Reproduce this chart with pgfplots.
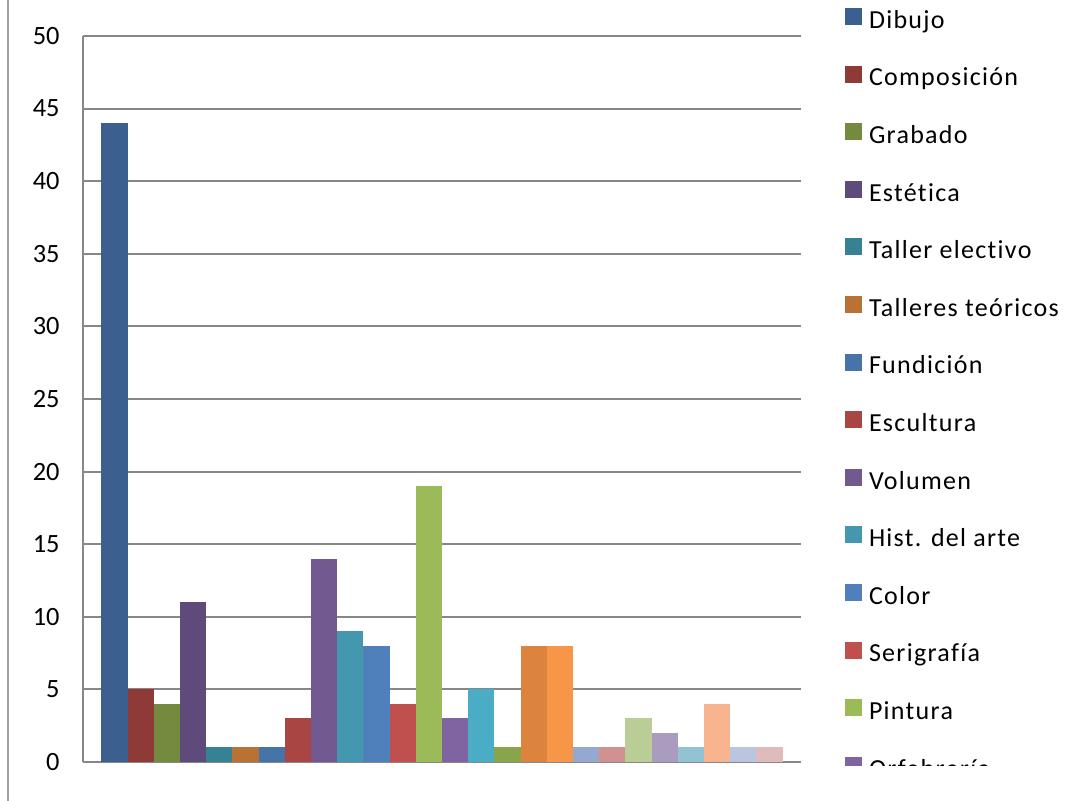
\documentclass[border=0pt]{standalone}
\usepackage{fontspec}
\setmainfont{Carlito}[Ligatures=NoCommon]
\newfontfamily\legfont{Carlito}[LetterSpace=5,Ligatures=NoCommon]
\usepackage{pgfplots}
\pgfplotsset{compat=1.18}
\definecolor{c1}{HTML}{3B5F8E}
\definecolor{c2}{HTML}{8E3B38}
\definecolor{c3}{HTML}{748B3F}
\definecolor{c4}{HTML}{5E4A7B}
\definecolor{c5}{HTML}{378195}
\definecolor{c6}{HTML}{BA7134}
\definecolor{c7}{HTML}{4674A9}
\definecolor{c8}{HTML}{A94543}
\definecolor{c9}{HTML}{72598F}
\definecolor{c10}{HTML}{4398AF}
\definecolor{c11}{HTML}{4F80BC}
\definecolor{c12}{HTML}{C0504D}
\definecolor{c13}{HTML}{9BBB59}
\definecolor{c14}{HTML}{8064A2}
\definecolor{c15}{HTML}{4BACC6}
\definecolor{c16}{HTML}{89A54C}
\definecolor{c17}{HTML}{DC843E}
\definecolor{c18}{HTML}{F79646}
\definecolor{c19}{HTML}{95A9D0}
\definecolor{c20}{HTML}{D19190}
\definecolor{c21}{HTML}{BACD96}
\definecolor{c22}{HTML}{AA9CBE}
\definecolor{c23}{HTML}{91C3D4}
\definecolor{c24}{HTML}{F8B48F}
\definecolor{c25}{HTML}{BAC5E0}
\definecolor{c26}{HTML}{E0BBBB}
\definecolor{gridgray}{HTML}{878787}
\definecolor{bordergray}{HTML}{A0A0A0}
\begin{document}
\begin{tikzpicture}
\useasboundingbox (-41.5pt,-19.5pt) rectangle (504.5pt,381pt);
\fill[white] (-41.5pt,-19.5pt) rectangle (504.5pt,381pt);
\draw[bordergray, line width=1pt] (-37.5pt,-19.5pt) -- (-37.5pt,381pt);
\begin{axis}[
  width=359pt, height=363pt, scale only axis,
  xmin=-1, xmax=1, ymin=0, ymax=50,
  enlargelimits=false,
  ytick={0,5,...,50},
  xtick=\empty,
  ybar=0pt, bar width=13.1pt,
  axis lines=left,
  axis line style={-, draw=gridgray, line width=1pt},
  ymajorgrids,
  grid style={draw=gridgray, line width=1pt},
  major tick length=0pt,
  /pgf/number format/assume math mode=true,
  yticklabel style={font=\fontsize{13.2}{15}\selectfont, anchor=east, inner sep=0pt, xshift=-11.5pt},
  every axis plot/.append style={draw=none,
    legend image code/.code={\fill[##1] (0pt,1.65pt) rectangle (8.5pt,10.15pt);}},
  legend style={at={(axis description cs:1.06128,1.04091)}, anchor=north west,
    draw=none, fill=none, inner sep=0pt, outer sep=0pt,
    row sep=14.8pt, column sep=3.5pt,
    font=\legfont\fontsize{13}{15}\selectfont,
    nodes={inner sep=0pt, anchor=base west, text height=11pt, text depth=3pt}},
]
\addplot[fill=c1] coordinates {(0,44)};
\addplot[fill=c2] coordinates {(0,5)};
\addplot[fill=c3] coordinates {(0,4)};
\addplot[fill=c4] coordinates {(0,11)};
\addplot[fill=c5] coordinates {(0,1)};
\addplot[fill=c6] coordinates {(0,1)};
\addplot[fill=c7] coordinates {(0,1)};
\addplot[fill=c8] coordinates {(0,3)};
\addplot[fill=c9] coordinates {(0,14)};
\addplot[fill=c10] coordinates {(0,9)};
\addplot[fill=c11] coordinates {(0,8)};
\addplot[fill=c12] coordinates {(0,4)};
\addplot[fill=c13] coordinates {(0,19)};
\addplot[fill=c14] coordinates {(0,3)};
\addplot[fill=c15] coordinates {(0,5)};
\addplot[fill=c16] coordinates {(0,1)};
\addplot[fill=c17] coordinates {(0,8)};
\addplot[fill=c18] coordinates {(0,8)};
\addplot[fill=c19] coordinates {(0,1)};
\addplot[fill=c20] coordinates {(0,1)};
\addplot[fill=c21] coordinates {(0,3)};
\addplot[fill=c22] coordinates {(0,2)};
\addplot[fill=c23] coordinates {(0,1)};
\addplot[fill=c24] coordinates {(0,4)};
\addplot[fill=c25] coordinates {(0,1)};
\addplot[fill=c26] coordinates {(0,1)};
\legend{Dibujo,Composición,Grabado,Estética,Taller electivo,Talleres teóricos,Fundición,Escultura,Volumen,Hist. del arte,Color,Serigrafía,Pintura,Orfebrería}
\end{axis}
\fill[white] (363.5pt,-2.2pt) rectangle (504.5pt,-19.5pt);
\end{tikzpicture}
\end{document}
